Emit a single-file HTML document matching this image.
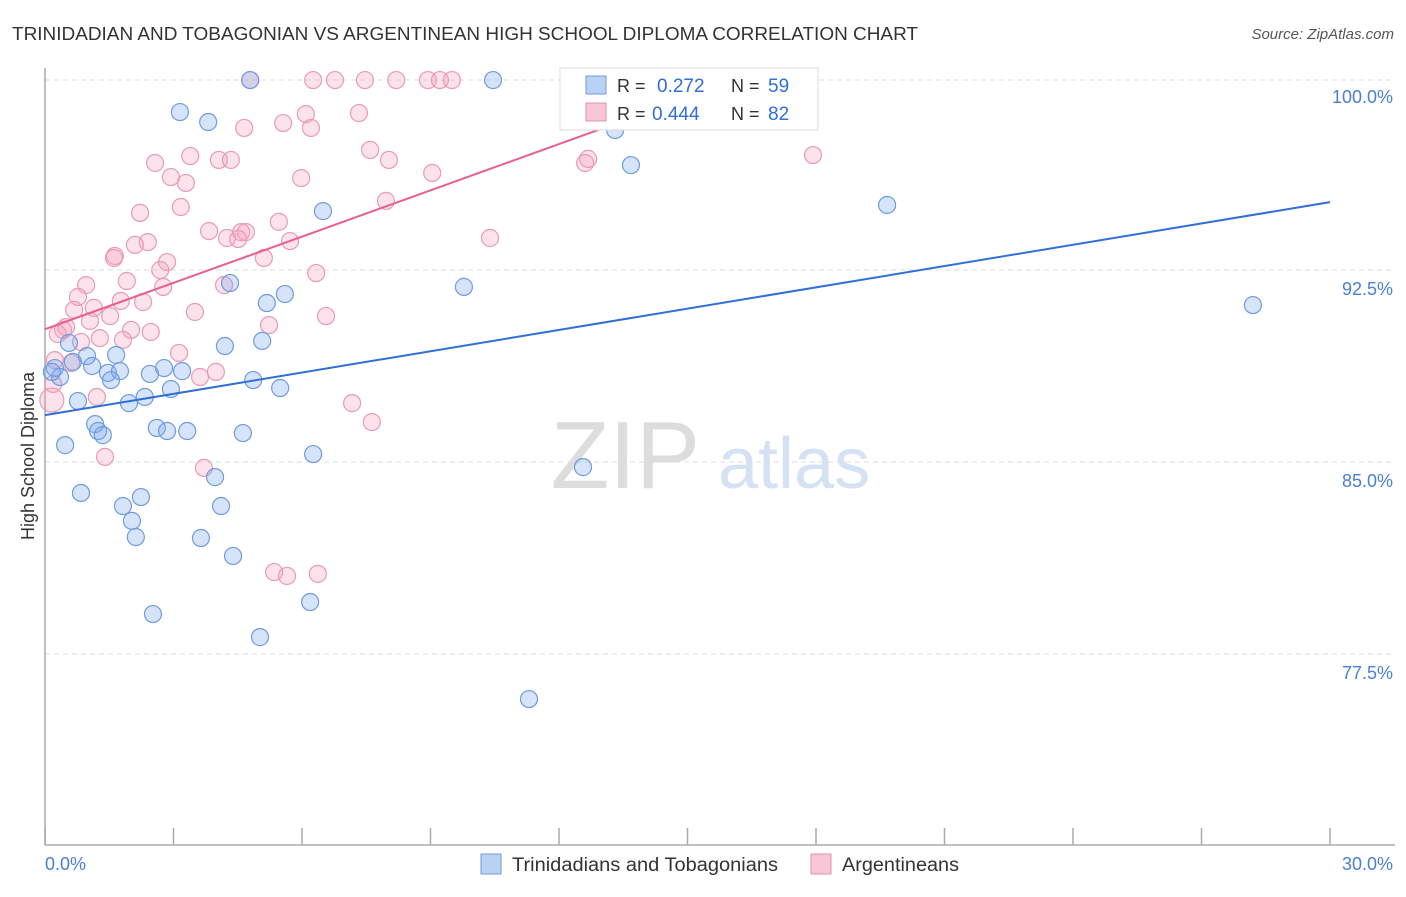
<!DOCTYPE html>
<html><head><meta charset="utf-8"><style>
body{margin:0;background:#fff;font-family:"Liberation Sans",sans-serif;}
svg text{font-family:"Liberation Sans",sans-serif;}
</style></head><body>
<svg width="1406" height="892" xmlns="http://www.w3.org/2000/svg" id="chart">
<text x="12" y="40" font-size="18" fill="#333" textLength="906" lengthAdjust="spacingAndGlyphs">TRINIDADIAN AND TOBAGONIAN VS ARGENTINEAN HIGH SCHOOL DIPLOMA CORRELATION CHART</text>
<text x="1394" y="39" font-size="15" fill="#555" text-anchor="end" font-style="italic">Source: ZipAtlas.com</text>
<g id="grid"></g>
<text x="700" y="488" font-size="96" fill="#ddd" text-anchor="end" font-family="Liberation Serif">ZIP</text>
<text x="718" y="488" font-size="72" fill="#d4e2f4">atlas</text>
<line x1="45" y1="68" x2="45" y2="845" stroke="#aaa" stroke-width="1.5"/>
<line x1="45" y1="845" x2="1395" y2="845" stroke="#aaa" stroke-width="1.5"/>
<g id="xticks"></g>
<g id="ylabels"></g>
<text x="45" y="870" font-size="18" fill="#4a7fd4">0.0%</text>
<text x="1393" y="870" font-size="18" fill="#4a7fd4" text-anchor="end">30.0%</text>
<text transform="translate(34,456) rotate(-90)" font-size="18" fill="#333" text-anchor="middle">High School Diploma</text>
<g id="pts"></g>
<g id="lines"></g>
<g>
<rect x="560" y="68" width="258" height="62" fill="#fff" stroke="#ddd"/>
<rect x="586" y="76" width="20" height="18" fill="#b9d1f3" stroke="#6f9be0"/>
<text x="617" y="92" font-size="18" fill="#333">R = </text><text x="657" y="92" font-size="19" fill="#2f6fd6">0.272</text>
<text x="731" y="92" font-size="18" fill="#333">N = </text><text x="768" y="92" font-size="19" fill="#2f6fd6">59</text>
<rect x="586" y="103" width="20" height="18" fill="#f8c6d6" stroke="#e890b0"/>
<text x="617" y="120" font-size="18" fill="#333">R = </text><text x="652" y="120" font-size="19" fill="#2f6fd6">0.444</text>
<text x="731" y="120" font-size="18" fill="#333">N = </text><text x="768" y="120" font-size="19" fill="#2f6fd6">82</text>
</g>
<g><rect x="481" y="854" width="20" height="20" fill="#b9d1f3" stroke="#6f9be0"/><text x="512" y="871" font-size="19" fill="#333" textLength="266" lengthAdjust="spacingAndGlyphs">Trinidadians and Tobagonians</text></g>
<g><rect x="811" y="854" width="20" height="20" fill="#f8c6d6" stroke="#e890b0"/><text x="842" y="871" font-size="19" fill="#333" textLength="117" lengthAdjust="spacingAndGlyphs">Argentineans</text></g>
</svg>
<script>
const yTicks=[100,92.5,85,77.5];
const yTickLabels=["100.0%","92.5%","85.0%","77.5%"];
const blueX=[4.79,10.46,3.15,3.81,13.31,13.68,19.66,6.49,28.20,9.78,4.32,5.60,5.18,5.07,4.20,0.56,0.98,1.66,0.65,0.23,0.35,0.16,1.10,1.47,1.75,1.54,2.45,2.78,3.20,4.86,5.49,2.94,2.33,1.96,0.77,1.17,1.24,1.35,2.61,2.85,3.32,4.62,0.47,6.26,12.56,3.97,0.84,2.24,1.82,4.11,2.03,2.12,3.64,4.39,6.19,2.52,5.02,11.30];
const blueY=[99.92,99.92,98.67,98.28,97.97,96.60,95.04,94.80,91.13,91.84,91.99,91.56,91.21,89.73,89.53,89.65,89.14,89.18,88.91,88.67,88.32,88.52,88.75,88.48,88.55,88.20,88.44,88.67,88.55,88.20,87.89,87.85,87.54,87.30,87.38,86.48,86.21,86.05,86.33,86.21,86.21,86.13,85.66,85.31,84.80,84.41,83.79,83.63,83.28,83.28,82.70,82.07,82.03,81.33,79.53,79.06,78.16,75.74];
const pinkX=[4.79,6.26,6.77,7.47,8.20,8.94,9.22,9.50,6.09,7.33,5.56,6.21,4.65,7.59,17.93,2.57,3.39,4.06,4.34,8.03,12.68,12.61,9.04,2.94,3.29,5.98,7.96,3.17,2.22,5.46,3.83,4.58,4.69,4.51,4.25,5.72,2.40,2.10,10.39,1.63,1.61,5.11,2.85,2.69,6.33,1.91,0.96,2.76,4.18,0.77,2.29,1.77,1.14,0.68,3.50,1.52,1.05,6.56,0.49,0.42,5.23,2.01,2.47,0.30,1.28,1.82,0.84,3.13,0.61,0.23,3.99,3.62,0.19,0.16,1.21,7.17,7.63,1.40,3.71,5.35,5.65,6.37];
const pinkY=[99.92,99.92,99.92,99.92,99.92,99.92,99.92,99.92,98.59,98.63,98.24,98.05,98.05,97.19,96.99,96.68,96.95,96.80,96.80,96.80,96.84,96.68,96.29,96.13,95.90,96.09,95.20,94.96,94.73,94.38,94.02,93.98,93.98,93.71,93.75,93.63,93.59,93.48,93.75,93.05,92.97,92.97,92.81,92.50,92.38,92.07,91.91,91.84,91.91,91.45,91.25,91.29,91.02,90.94,90.86,90.70,90.51,90.70,90.27,90.16,90.35,90.16,90.08,90.00,89.84,89.77,89.69,89.26,88.87,88.98,88.52,88.32,88.05,87.42,87.54,87.30,86.56,85.20,84.77,80.70,80.55,80.63];
const blueTrend=[[0,86.83],[30,95.15]];
const pinkTrend=[[0,90.19],[16.2,99.95]];
const NS="http://www.w3.org/2000/svg";
const sx=v=>45+v*(1285/30);
const sy=v=>78+(100-v)*25.6;
function mk(tag,attrs,parent){const e=document.createElementNS(NS,tag);for(const k in attrs)e.setAttribute(k,attrs[k]);document.getElementById(parent).appendChild(e);return e;}
yTicks.forEach((t,i)=>{
 const l=mk('line',{x1:45,x2:1395,y1:sy(t)+(i==0?2:0),y2:sy(t)+(i==0?2:0),stroke:'#ddd','stroke-dasharray':'5,4'},'grid');
 
 
 const tx=mk('text',{x:1393,y:sy(t)+25,'font-size':18,fill:'#4a7fd4','text-anchor':'end'},'ylabels');
 tx.textContent=yTickLabels[i];
 
 
});
for(let i=0;i<=10;i++){
 const l=mk('line',{x1:sx(i*3),x2:sx(i*3),y1:828,y2:845,stroke:'#aaa','stroke-width':1.5},'xticks');
 
 
}
pinkX.forEach((x,i)=>{
 const c=mk('circle',{cx:sx(x),cy:sy(pinkY[i]),r:(i==73?12:8.5),fill:'rgba(244,160,190,0.3)',stroke:'#e89ab6','stroke-width':1.2},'pts');
 
 
});
blueX.forEach((x,i)=>{
 const c=mk('circle',{cx:sx(x),cy:sy(blueY[i]),r:8.5,fill:'rgba(120,165,235,0.3)',stroke:'#6f9be0','stroke-width':1.2},'pts');
 
 
});
const bl=mk('line',{x1:sx(blueTrend[0][0]),y1:sy(blueTrend[0][1]),x2:sx(blueTrend[1][0]),y2:sy(blueTrend[1][1]),stroke:'#2f6fd6','stroke-width':2},'lines');


const pl=mk('line',{x1:sx(pinkTrend[0][0]),y1:sy(pinkTrend[0][1]),x2:sx(pinkTrend[1][0]),y2:sy(pinkTrend[1][1]),stroke:'#e8608f','stroke-width':2},'lines');


</script>
</body></html>
